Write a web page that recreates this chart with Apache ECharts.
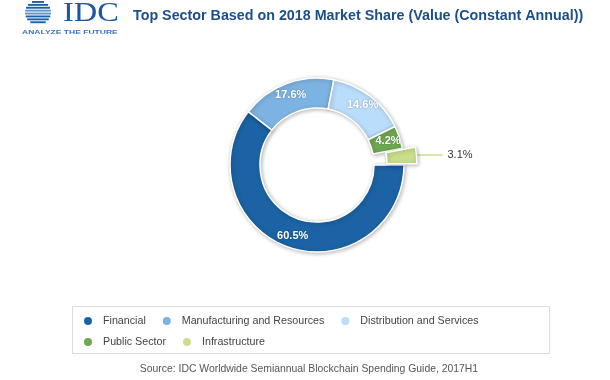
<!DOCTYPE html>
<html><head><meta charset="utf-8">
<script src="https://cdn.jsdelivr.net/npm/echarts@6/dist/echarts.min.js"></script>
<style>html,body{margin:0;padding:0;background:#fff}#c{width:610px;height:380px}</style>
</head><body><div id="c"></div>
<script>
const categories = ['Financial', 'Manufacturing and Resources', 'Distribution and Services', 'Public Sector', 'Infrastructure'];
const shares = [60.5, 17.6, 14.6, 4.2, 3.1];
const colors = ['#1b63a5', '#7db3e2', '#b9ddfb', '#6ea94f', '#c8e08c'];
const legendRow1 = ['Financial', 'Manufacturing and Resources', 'Distribution and Services'];
const legendRow2 = ['Public Sector', 'Infrastructure'];
const titleText = 'Top Sector Based on 2018 Market Share (Value (Constant Annual))';
const sourceText = 'Source: IDC Worldwide Semiannual Blockchain Spending Guide, 2017H1';

const chart = echarts.init(document.getElementById('c'), null, {renderer: 'canvas'});
const FF = '"Liberation Sans", Arial, sans-serif';

// logo globe stripes
const logo = [];
const gcx = 38, gcy = 12.5, gr = 11.5;
for (let i = 0; i < 8; i++) {
  const y0 = gcy - gr + i * 2.9;
  const yc = y0 + 0.9;
  const dy = Math.abs(yc - gcy);
  const half = Math.sqrt(Math.max(0, gr * gr - dy * dy)) + 1.5;
  const light = (i === 3 || i === 4);
  logo.push({type: 'rect', shape: {x: gcx - half, y: y0, width: half * 2, height: 1.9},
    style: {fill: light ? '#5d95cf' : '#1d5fa8'}, silent: true});
}
logo.push({type: 'text', x: 63, y: 0, scaleX: 1.2, style: {text: 'IDC', font: '27px "Liberation Serif", "Times New Roman", serif', fill: '#1d56a3'}, silent: true});
logo.push({type: 'text', x: 22, y: 29, scaleX: 1.42, style: {text: 'ANALYZE THE FUTURE', font: 'bold 6px ' + FF, fill: '#3a73b8'}, silent: true});

const data = categories.map((name, i) => {
  const d = {name, value: shares[i], itemStyle: {color: colors[i]}};
  if (i === 4) {
    d.selected = true;
    d.label = {position: 'outside', color: '#333', fontWeight: 'normal', fontSize: 11, textShadowBlur: 0};
    d.labelLine = {show: true, length: 4, length2: 22, lineStyle: {color: '#c8e08c', width: 1.5}};
  }
  return d;
});

const legendText = {fontSize: 10.7, color: '#444', fontFamily: FF};
chart.setOption({
  animation: false,
  color: colors,
  title: {text: titleText, left: 133, top: 9, padding: 0,
    textStyle: {fontSize: 14.3, fontWeight: 'bold', color: '#1c4f89', fontFamily: FF}},
  legend: [
    {data: legendRow1, left: 82, top: 315, padding: 0, itemWidth: 20, itemHeight: 10, itemGap: 15, icon: 'circle',
      selectedMode: false, textStyle: legendText},
    {data: legendRow2, left: 82, top: 336, padding: 0, itemWidth: 20, itemHeight: 10, itemGap: 15, icon: 'circle',
      selectedMode: false, textStyle: legendText}
  ],
  graphic: logo.concat([
    {type: 'rect', shape: {x: 72.5, y: 306.5, width: 477, height: 47}, style: {fill: 'none', stroke: '#dcdcdc', lineWidth: 1}, silent: true},
    {type: 'text', x: 309, y: 369, style: {text: sourceText, font: '10.4px ' + FF, fill: '#555', textAlign: 'center', textVerticalAlign: 'middle'}, silent: true}
  ]),
  series: [{
    type: 'pie',
    center: [317, 165],
    radius: [57, 87],
    startAngle: 0,
    clockwise: true,
    selectedMode: 'single',
    selectedOffset: 13,
    avoidLabelOverlap: false,
    itemStyle: {borderColor: '#fff', borderWidth: 1.5, shadowBlur: 4, shadowColor: 'rgba(0,0,0,0.28)', shadowOffsetX: 1, shadowOffsetY: 1},
    label: {show: true, position: 'inside', formatter: '{c}%', color: '#fff', fontWeight: 'bold', fontSize: 11, fontFamily: FF,
      textShadowColor: 'rgba(0,0,0,0.35)', textShadowBlur: 2},
    labelLine: {show: false},
    emphasis: {disabled: true},
    data: data
  }]
});
</script></body></html>
